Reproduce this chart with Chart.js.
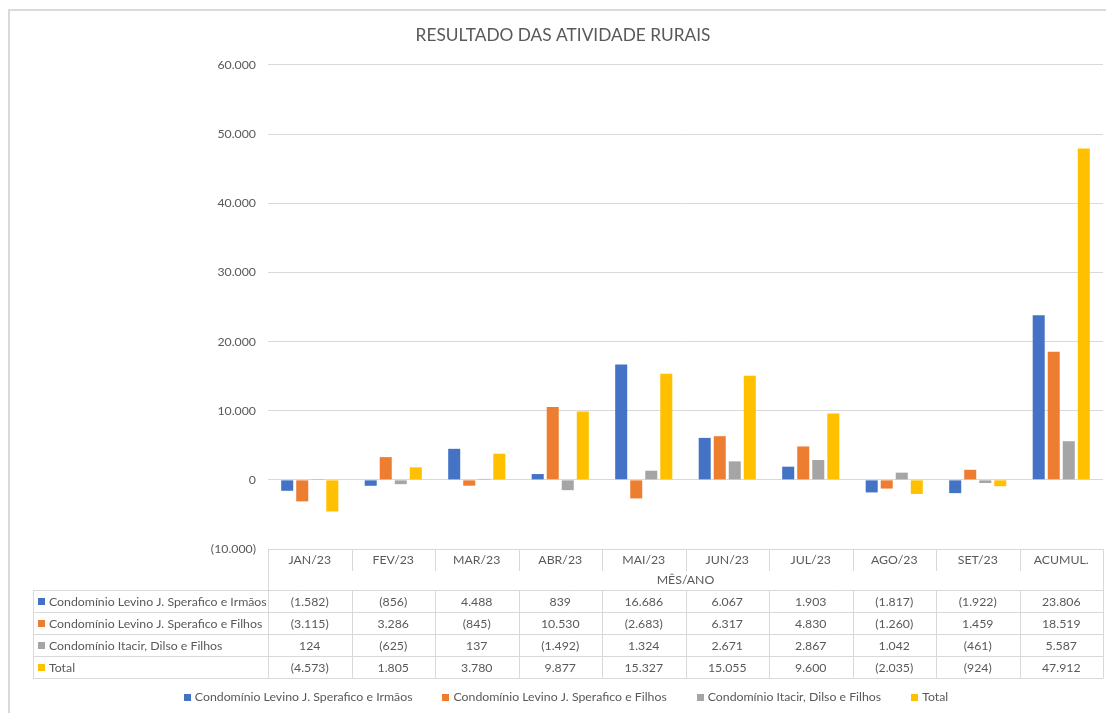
<!DOCTYPE html>
<html><head><meta charset="utf-8">
<script src="https://cdn.jsdelivr.net/npm/chart.js@4.4.0/dist/chart.umd.min.js"></script>
<style>html,body{margin:0;padding:0;background:#fff;overflow:hidden}#wrap{width:1106px;height:713px;position:relative}canvas{display:block}</style>
</head><body><div id="wrap"><canvas id="c" width="1106" height="713"></canvas></div>
<script>
const title = 'RESULTADO DAS ATIVIDADE RURAIS';
const axisTitle = 'MÊS/ANO';
const categories = ['JAN/23','FEV/23','MAR/23','ABR/23','MAI/23','JUN/23','JUL/23','AGO/23','SET/23','ACUMUL.'];
const seriesNames = ['Condomínio Levino J. Sperafico e Irmãos','Condomínio Levino J. Sperafico e Filhos','Condomínio Itacir, Dilso e Filhos','Total'];
const irmaos = [-1582, -856, 4488, 839, 16686, 6067, 1903, -1817, -1922, 23806];
const filhos = [-3115, 3286, -845, 10530, -2683, 6317, 4830, -1260, 1459, 18519];
const itacir = [124, -625, 137, -1492, 1324, 2671, 2867, 1042, -461, 5587];
const total = [-4573, 1805, 3780, 9877, 15327, 15055, 9600, -2035, -924, 47912];
const yTicks = [-10000, 0, 10000, 20000, 30000, 40000, 50000, 60000];
const colors = ['#4472C4', '#ED7D31', '#A5A5A5', '#FFC000'];

const FONT = 'Lato, "Open Sans", sans-serif';
const TXT = '#595959';
const LINE = '#d9d9d9';
const FS = 12.3;
const seriesValues = [irmaos, filhos, itacir, total];

function fmt(v) {
  const s = Math.abs(Math.round(v)).toString().replace(/\B(?=(\d{3})+(?!\d))/g, '.');
  return v < 0 ? '(' + s + ')' : s;
}

const tablePlugin = {
  id: 'tbl',
  beforeDraw(chart) {
    const ctx = chart.ctx;
    ctx.save();
    ctx.strokeStyle = LINE; ctx.lineWidth = 2;
    ctx.beginPath(); ctx.moveTo(9, 730); ctx.lineTo(9, 10); ctx.lineTo(1130, 10); ctx.stroke();
    ctx.restore();
  },
  afterDraw(chart) {
    const ctx = chart.ctx, xs = chart.scales.x, area = chart.chartArea;
    const n = categories.length;
    const cw = (area.right - area.left) / n;
    const top = Math.round(area.bottom);
    const catBottom = top + 22;
    const tblTop = top + 41;
    const rowH = 22;
    const tblLeft = 33;
    const L = Math.round(area.left), R = Math.round(area.right);
    ctx.save();
    ctx.strokeStyle = LINE; ctx.lineWidth = 1;
    ctx.beginPath();
    for (let r = 0; r <= 4; r++) {
      const y = tblTop + r * rowH + 0.5;
      ctx.moveTo(tblLeft, y); ctx.lineTo(R + 0.5, y);
    }
    ctx.moveTo(tblLeft + 0.5, tblTop); ctx.lineTo(tblLeft + 0.5, tblTop + 4 * rowH);
    ctx.moveTo(L + 0.5, top); ctx.lineTo(L + 0.5, tblTop + 4 * rowH);
    ctx.moveTo(R + 0.5, top); ctx.lineTo(R + 0.5, tblTop + 4 * rowH);
    for (let i = 1; i < n; i++) {
      const x = Math.round(xs.getPixelForValue(i) - cw / 2) + 0.5;
      ctx.moveTo(x, top); ctx.lineTo(x, catBottom);
      ctx.moveTo(x, tblTop); ctx.lineTo(x, tblTop + 4 * rowH);
    }
    ctx.stroke();

    ctx.fillStyle = TXT;
    ctx.font = FS + 'px ' + FONT;
    ctx.textBaseline = 'middle';
    ctx.textAlign = 'center';
    categories.forEach((c, i) => ctx.fillText(c, xs.getPixelForValue(i), top + 11.5));
    ctx.fillText(axisTitle, (area.left + area.right) / 2, top + 31);
    seriesValues.forEach((vals, r) => {
      const yc = tblTop + r * rowH + rowH / 2 + 1;
      vals.forEach((v, i) => { ctx.fillStyle = TXT; ctx.fillText(fmt(v), xs.getPixelForValue(i), yc); });
      ctx.fillStyle = colors[r];
      ctx.fillRect(38, Math.round(yc - 4), 7, 7);
      ctx.fillStyle = TXT;
      ctx.textAlign = 'left';
      ctx.fillText(seriesNames[r], 49, yc);
      ctx.textAlign = 'center';
    });

    const sq = 7, gapT = 4, gapI = 30;
    const widths = seriesNames.map(s => sq + gapT + ctx.measureText(s).width);
    const totalW = widths.reduce((a, b) => a + b, 0) + gapI * (widths.length - 1);
    let x = 566 - totalW / 2;
    const ly = 697.5;
    ctx.textAlign = 'left';
    seriesNames.forEach((s, i) => {
      ctx.fillStyle = colors[i];
      ctx.fillRect(Math.round(x), Math.round(ly - 4), sq, sq);
      ctx.fillStyle = TXT;
      ctx.fillText(s, x + sq + gapT, ly);
      x += widths[i] + gapI;
    });
    ctx.restore();
  }
};

new Chart(document.getElementById('c'), {
  type: 'bar',
  data: {
    labels: categories,
    datasets: seriesNames.map((name, i) => ({
      label: name,
      data: seriesValues[i],
      backgroundColor: colors[i],
      categoryPercentage: 0.72,
      barPercentage: 0.8
    }))
  },
  options: {
    responsive: false,
    animation: false,
    devicePixelRatio: 1,
    layout: { padding: { left: 23, right: 3, top: 0, bottom: 0 } },
    plugins: {
      legend: { display: false },
      tooltip: { enabled: false },
      title: {
        display: true, text: title, color: TXT,
        font: { family: FONT, size: 17.3, weight: 'normal', lineHeight: 1.2 },
        padding: { top: 24.6, bottom: 19.6 }
      }
    },
    scales: {
      x: {
        ticks: { display: false },
        grid: { display: false },
        border: { display: false },
        afterFit(s) { s.height = 164; }
      },
      y: {
        min: -10000, max: 60000,
        afterBuildTicks(s) { s.ticks = yTicks.map(v => ({ value: v })); },
        ticks: { color: TXT, font: { family: FONT, size: FS }, padding: 12, callback: v => fmt(v) },
        grid: { color: LINE, drawTicks: false, lineWidth: 1 },
        border: { display: false },
        afterFit(s) { s.width = 245; }
      }
    }
  },
  plugins: [tablePlugin]
});
</script>
</body></html>
